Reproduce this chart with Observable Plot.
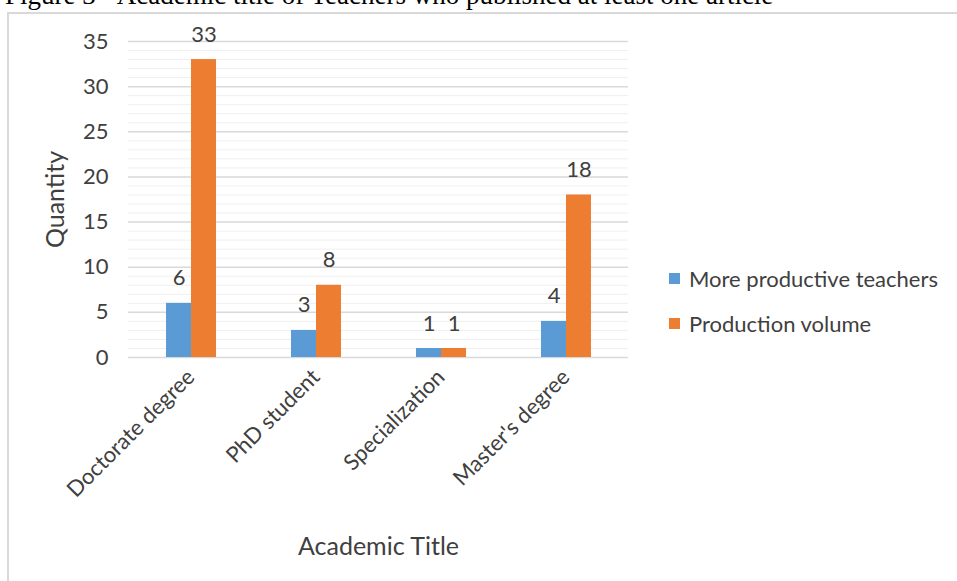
<!DOCTYPE html>
<html>
<head>
<meta charset="utf-8">
<script src="https://cdn.jsdelivr.net/npm/d3@7"></script>
<script src="https://cdn.jsdelivr.net/npm/@observablehq/plot@0.6"></script>
<style>
  html, body { margin: 0; padding: 0; background: #fff; }
  #page { position: relative; width: 957px; height: 581px; overflow: hidden; }
  #caption {
    position: absolute; left: 5px; top: -15px; white-space: nowrap;
    font-family: "Liberation Serif", "Times New Roman", serif; font-size: 27px; line-height: 20px; color: #000;
  }
  #box {
    position: absolute; left: 7px; top: 12px; width: 980px; height: 600px;
    border: 2px solid #d9d9d9; box-sizing: border-box;
  }
  #chart { position: absolute; left: 0; top: 0; }
  #legend { position: absolute; left: 669px; top: 263px; font-family: Lato, sans-serif; font-size: 22px; color: #404040; }
  #legend .item { display: flex; align-items: center; height: 30px; margin-bottom: 15px; }
  #legend .sw { width: 11px; height: 11px; margin-right: 9px; }
</style>
</head>
<body>
<div id="page">
  <div id="caption">Figure 3 - Academic title of Teachers who published at least one article</div>
  <div id="box"></div>
  <div id="chart"></div>
  <div id="legend"></div>
</div>
<script>
// Academic titles on the horizontal axis
const categories = ["Doctorate degree", "PhD student", "Specialization", "Master's degree"];
// The two series shown for each title
const seriesNames = ["More productive teachers", "Production volume"];
const seriesColors = ["#5B9BD5", "#ED7D31"];
const productiveTeachers = [6, 3, 1, 4];
const productionVolume = [33, 8, 1, 18];
const yTicks = [0, 5, 10, 15, 20, 25, 30, 35];

const rows = categories.flatMap((c, i) => [
  {category: c, series: seriesNames[0], value: productiveTeachers[i]},
  {category: c, series: seriesNames[1], value: productionVolume[i]}
]);
const minorTicks = d3.range(0, 36).filter(v => !yTicks.includes(v));

const chart = Plot.plot({
  width: 957,
  height: 581,
  marginLeft: 128,
  marginRight: 329,
  marginTop: 41,
  marginBottom: 224,
  style: {fontFamily: "Lato, sans-serif", fontSize: "22px", color: "#404040", background: "transparent"},
  fx: {domain: categories, padding: 0},
  x: {domain: seriesNames, paddingInner: 0, paddingOuter: 1.5, axis: null},
  y: {domain: [0, 35]},
  color: {domain: seriesNames, range: seriesColors},
  marks: [
    Plot.ruleY(minorTicks, {stroke: "#efefef", strokeWidth: 1}),
    Plot.ruleY(yTicks, {stroke: "#d9d9d9", strokeWidth: 1.5}),
    Plot.barY(rows, {fx: "category", x: "series", y: "value", fill: "series"}),
    Plot.text(rows, {fx: "category", x: "series", y: "value", text: d => String(d.value), dy: -25, fill: "#404040"}),
    // tick labels
    Plot.axisY({ticks: yTicks, tickSize: 0, tickPadding: 20, label: null}),
    Plot.axisFx({anchor: "bottom", tickRotate: -45, tickSize: 0, tickPadding: 16, label: null}),
    // axis titles
    Plot.axisY({ticks: [], tickSize: 0, label: "Quantity", labelAnchor: "center", labelArrow: "none", labelOffset: 82, fontSize: 25}),
    Plot.axisFx({anchor: "bottom", ticks: [], tickSize: 0, label: "Academic Title", labelAnchor: "center", labelOffset: 197, fontSize: 25})
  ]
});
document.getElementById("chart").appendChild(chart);

const legend = document.getElementById("legend");
seriesNames.forEach((name, i) => {
  const item = document.createElement("div");
  item.className = "item";
  const sw = document.createElement("span");
  sw.className = "sw";
  sw.style.background = seriesColors[i];
  const label = document.createElement("span");
  label.textContent = name;
  item.appendChild(sw);
  item.appendChild(label);
  legend.appendChild(item);
});
</script>
</body>
</html>
